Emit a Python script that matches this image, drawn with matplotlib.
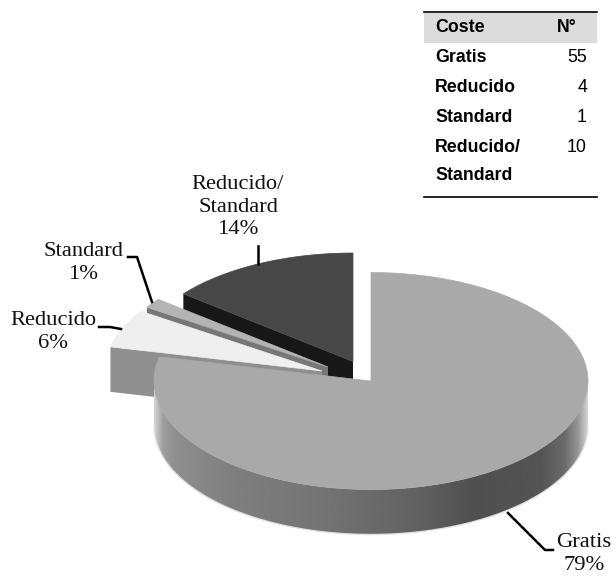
import numpy as np
import matplotlib.pyplot as plt
from matplotlib.patches import Polygon

categories = ["Gratis", "Reducido", "Standard", "Reducido/\nStandard"]
counts = [55, 4, 1, 10]
table_rows = ["Gratis", "Reducido", "Standard", "Reducido/\nStandard"]

top_colors = ["#a9a9a9", "#efefef", "#b4b4b4", "#474747"]
wall_colors = ["#777777", "#8f8f8f", "#777777", "#171717"]

# pie geometry in pixels (ellipse, because the pie is tilted)
RX, RY, DEPTH = 217, 108.5, 45
apexes = [(371, 381), (322, 371), (328, 367), (353, 361.5)]

# shading of the round wall, from left to right
shade_x = [152, 156, 163, 175, 230, 330, 420, 475, 540, 565, 578, 585, 590]
shade_v = [0.88, 0.78, 0.62, 0.56, 0.50, 0.45, 0.38, 0.31, 0.33, 0.42, 0.58, 0.75, 0.88]

plt.rcParams['font.family'] = ['Liberation Serif', 'DejaVu Serif']
fig = plt.figure(figsize=(6.15, 5.77), dpi=100)
ax = fig.add_axes([0, 0, 1, 1])
ax.set_xlim(0, 615)
ax.set_ylim(577, 0)
ax.axis('off')


def rim(apex, start, end, n=120):
    # angles clockwise from the top, as a tilted pie
    t = np.radians(np.linspace(start, end, n))
    return apex[0] + RX * np.sin(t), apex[1] - RY * np.cos(t)


total = sum(counts)
edges = np.concatenate([[0], np.cumsum(counts)]) / total * 360

# back slices first, the big one on top
for i in [3, 2, 1, 0]:
    start, end = edges[i], edges[i + 1]
    apex = apexes[i]
    x, y = rim(apex, start, end)
    if i == 0:
        # round wall facing the viewer, gradient clipped to its outline
        wx, wy = rim(apex, 90, 270, 260)
        grad_x = np.arange(150, 592)
        grad = np.interp(grad_x, shade_x, shade_v)[np.newaxis, :]
        im = ax.imshow(grad, cmap='gray', vmin=0, vmax=1, aspect='auto',
                       extent=(150, 591, 540, 380), zorder=1 + 4 - i)
        wall = Polygon(np.c_[np.r_[wx, wx[::-1]], np.r_[wy, wy[::-1] + DEPTH]],
                       transform=ax.transData, fc='none', ec='none')
        ax.add_patch(wall)
        im.set_clip_path(wall)
        ax.plot(wx, wy + DEPTH, color='#e2e2e2', lw=1, zorder=1 + 4 - i)
    else:
        # flat cut walls, seen under the first edge of the slice
        ax.fill([apex[0], x[0], x[0], apex[0]],
                [apex[1], y[0], y[0] + DEPTH, apex[1] + DEPTH],
                color=wall_colors[i], lw=0, zorder=1 + 4 - i)
    ax.fill(np.r_[apex[0], x], np.r_[apex[1], y], color=top_colors[i], lw=0.5,
            zorder=1.5 + 4 - i)

ax.set_xlim(0, 615)
ax.set_ylim(577, 0)

# leader lines
ax.plot([258, 258], [264, 246], color='black', lw=1.8, zorder=8)
ax.plot([128, 137, 152], [257, 257, 302], color='black', lw=1.8, zorder=8)
ax.plot([99, 110, 121], [327, 327, 329], color='black', lw=1.8, zorder=8)
ax.plot([508, 545, 553], [513, 550, 550], color='black', lw=1.8, zorder=8)

# slice labels
label_pos = [(584, 554), (53, 332), (83, 263), (238, 207)]
for cat, n, (lx, ly) in zip(categories, counts, label_pos):
    ax.text(lx, ly, f"{cat}\n{round(n / total * 100)}%", ha='center', va='center',
            fontsize=16.2, linespacing=1.22, color='#111111', zorder=9, clip_on=False)

# table
narrow = ['Liberation Sans', 'DejaVu Sans']
ax.fill([424, 597, 597, 424], [13, 13, 43, 43], color='#dcdcdc', lw=0, zorder=2)
ax.plot([424, 597], [12, 12], color='black', lw=1.2, zorder=3)
ax.plot([424, 597], [197, 197], color='black', lw=1.2, zorder=3)
ax.text(435, 27, "Coste", family=narrow, weight='bold', fontsize=12.8, va='center')
ax.text(577, 27, "N°", family=narrow, weight='bold', fontsize=12.8, va='center', ha='right')
row_y = [57, 87, 117, 147]
for name, n, ry in zip(table_rows, counts, row_y):
    ax.text(435, ry, name.split("\n")[0], family=narrow, weight='bold', fontsize=12.8, va='center')
    if "\n" in name:
        ax.text(435, ry + 28, name.split("\n")[1], family=narrow, weight='bold', fontsize=12.8, va='center')
    ax.text(587, ry, str(n), family=narrow, fontsize=12.8, va='center', ha='right')

fig.savefig("out.png", dpi=100)
plt.close()
